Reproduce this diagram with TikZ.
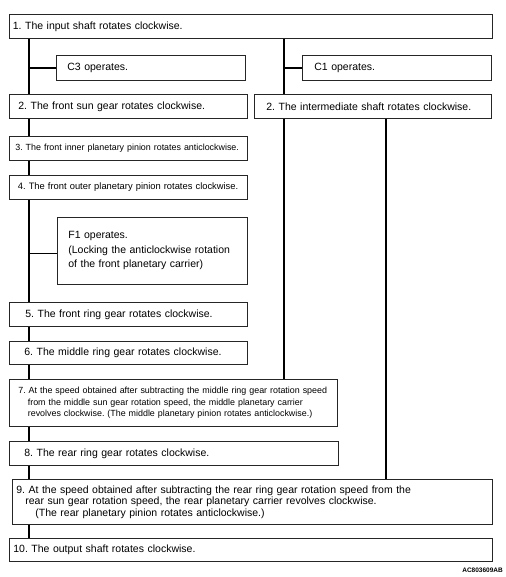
\documentclass[tikz,border=0pt]{standalone}
\usepackage{fontspec}
\setmainfont{Liberation Sans}
\frenchspacing
\hyphenpenalty=10000
\begin{document}
\begin{tikzpicture}[x=1pt,y=-1pt,
    stepbox/.style={draw=black!85, line width=0.7pt, anchor=north west, align=left,
      inner ysep=0pt, font=\fontsize{10.5}{11.5}\selectfont},
    smalltext/.style={font=\fontsize{8.9}{11.3}\selectfont},
    link/.style={line width=1.5pt}]
  \useasboundingbox (0,0) rectangle (505,577);
  \coordinate (lx) at (29,0);
  \coordinate (rx) at (284,0);
  \coordinate (sx) at (386,0);

  \node[stepbox, inner xsep=3.5pt, text width=476pt, minimum height=24pt] (in1) at (9,14)
    {1. The input shaft rotates clockwise.};
  \node[stepbox, inner xsep=11pt, text width=167pt, minimum height=25pt] (c3) at (56,55)
    {C3 operates.};
  \node[stepbox, inner xsep=12pt, text width=165pt, minimum height=25pt] (c1) at (302,55)
    {C1 operates.};
  \node[stepbox, inner xsep=9pt, text width=220pt, minimum height=24pt] (sun2) at (9,94)
    {2. The front sun gear rotates clockwise.};
  \node[stepbox, inner xsep=12pt, text width=213pt, minimum height=24pt] (shaft2) at (254,94)
    {2. The intermediate shaft rotates clockwise.};
  \node[stepbox, smalltext, inner xsep=6pt, text width=226pt, minimum height=24pt] (inner3) at (9,136)
    {3. The front inner planetary pinion rotates anticlockwise.};
  \node[stepbox, font=\fontsize{9.35}{11}\selectfont, inner xsep=8.5pt, text width=221pt, minimum height=24pt] (outer4) at (9,175)
    {4. The front outer planetary pinion rotates clockwise.};
  \node[stepbox, font=\fontsize{10.5}{14.5}\selectfont, inner xsep=11pt, text width=168pt, minimum height=67pt] (f1) at (57,217)
    {F1 operates.\\(Locking the anticlockwise rotation\\of the front planetary carrier)};
  \node[stepbox, inner xsep=16pt, text width=206pt, minimum height=24pt] (ring5) at (9,302)
    {5. The front ring gear rotates clockwise.};
  \node[stepbox, inner xsep=15pt, text width=208pt, minimum height=23pt] (ring6) at (9,341)
    {6. The middle ring gear rotates clockwise.};
  \node[stepbox, smalltext, inner xsep=9pt, text width=310pt, minimum height=47pt] (carr7) at (9,379)
    {7. At the speed obtained after subtracting the middle ring gear rotation speed\\
     \hspace*{9.5pt}from the middle sun gear rotation speed, the middle planetary carrier\\
     \hspace*{9.5pt}revolves clockwise. (The middle planetary pinion rotates anticlockwise.)};
  \node[stepbox, inner xsep=15pt, text width=299pt, minimum height=24pt] (ring8) at (9,441)
    {8. The rear ring gear rotates clockwise.};
  \node[stepbox, inner xsep=4pt, text width=472pt, minimum height=45pt] (carr9) at (12,479)
    {9. At the speed obtained after subtracting the rear ring gear rotation speed from the\\
     \hspace*{9pt}rear sun gear rotation speed, the rear planetary carrier revolves clockwise.\\
     \hspace*{19pt}(The rear planetary pinion rotates anticlockwise.)};
  \node[stepbox, inner xsep=4pt, text width=475pt, minimum height=23pt] (out10) at (9,538)
    {10. The output shaft rotates clockwise.};
  \node[anchor=south east, inner sep=0pt, font=\bfseries\fontsize{6.5}{7}\selectfont] (code) at (503,573)
    {AC803609AB};

  % main line, left
  \draw[link] (in1.south -| lx) -- (sun2.north -| lx);
  \draw[link] (c3.west) -- (c3.west -| lx);
  \draw[link] (sun2.south -| lx) -- (inner3.north -| lx);
  \draw[link] (inner3.south -| lx) -- (outer4.north -| lx);
  \draw[link] (outer4.south -| lx) -- (ring5.north -| lx);
  \draw[link] ([yshift=-2.5pt]f1.west) -- ([yshift=-2.5pt]f1.west -| lx);
  \draw[link] (ring5.south -| lx) -- (ring6.north -| lx);
  \draw[link] (ring6.south -| lx) -- (carr7.north -| lx);
  \draw[link] (carr7.south -| lx) -- (ring8.north -| lx);
  \draw[link] (ring8.south -| lx) -- (carr9.north -| lx);
  \draw[link] (carr9.south -| lx) -- (out10.north -| lx);
  % right side
  \draw[link] (in1.south -| rx) -- (shaft2.north -| rx);
  \draw[link] (c1.west) -- (c1.west -| rx);
  \draw[link] (shaft2.south -| rx) -- (carr7.north -| rx);
  \draw[link] (shaft2.south -| sx) -- (carr9.north -| sx);
\end{tikzpicture}
\end{document}
